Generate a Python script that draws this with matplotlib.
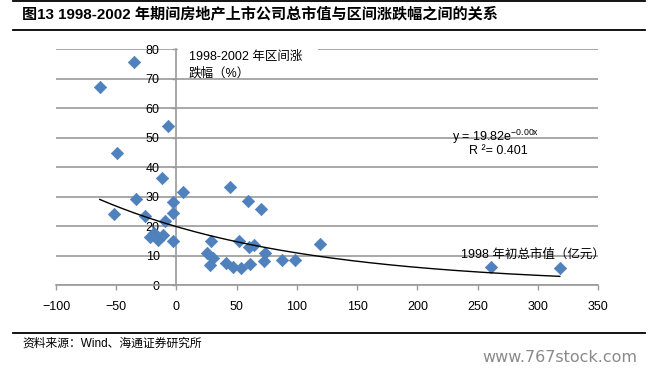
import matplotlib
matplotlib.use("Agg")
import matplotlib.pyplot as plt
from matplotlib.patches import Rectangle
from matplotlib.lines import Line2D
import numpy as np

plt.rcParams['font.family'] = ['Liberation Sans', 'Noto Sans CJK SC', 'DejaVu Sans']
plt.rcParams['mathtext.fontset'] = 'custom'
plt.rcParams['mathtext.rm'] = 'Liberation Sans'
plt.rcParams['mathtext.it'] = 'Liberation Sans'

# Data: 1998 market cap (100m yuan) vs 1998-2002 change (%)
market_cap = [-63.7, -35.2, -7.0, -49.3, -12.0, -33.2, 5.5, -2.8, -2.8, -52.0,
              -26.3, -9.7, -22.2, -15.3, -11.0, -19.0, -2.8, 28.5, 25.0, 30.0,
              27.7, 41.0, 46.7, 53.5, 61.0, 44.3, 59.2, 70.6, 52.0, 60.3,
              64.2, 73.3, 72.5, 88.0, 98.8, 119.6, 260.8, 318.3]
change_pct = [67.3, 75.6, 54.1, 44.9, 36.2, 29.1, 31.7, 28.1, 24.3, 24.2,
              23.5, 21.8, 16.4, 15.3, 17.0, 17.5, 15.0, 14.8, 10.8, 9.0,
              6.8, 7.4, 6.1, 5.9, 7.1, 33.2, 28.5, 25.9, 14.9, 13.0,
              13.6, 11.0, 8.2, 8.5, 8.5, 13.9, 6.2, 5.9]
trend_a = 19.82
trend_b = -0.006
x_ticks = [-100, -50, 0, 50, 100, 150, 200, 250, 300, 350]
y_ticks = [0, 10, 20, 30, 40, 50, 60, 70, 80]

W, H = 663, 374
fig = plt.figure(figsize=(W / 100, H / 100), dpi=100)

ax = fig.add_axes([56 / W, 1 - 285 / H, (598 - 56) / W, (285 - 49.3) / H])
ax.set_xlim(-100, 350)
ax.set_ylim(0, 80)
ax.set_xticks(x_ticks)
ax.set_yticks(y_ticks)
ax.yaxis.grid(True, color='#9a9a9a', linewidth=1.2, zorder=0)
ax.set_axisbelow(True)
for s in ['top', 'right']:
    ax.spines[s].set_visible(False)
ax.spines['left'].set_position(('data', 0))
ax.spines['left'].set_color('#9a9a9a')
ax.spines['left'].set_linewidth(1.2)
ax.spines['bottom'].set_color('#9a9a9a')
ax.spines['bottom'].set_linewidth(1.2)
ax.tick_params(axis='x', direction='out', length=3.5, width=1, color='#9a9a9a',
               pad=8, labelsize=9)
ax.tick_params(axis='y', direction='out', length=3, width=1, color='#9a9a9a',
               pad=9, labelsize=9)

ax.scatter(market_cap, change_pct, marker='D', s=6.3 ** 2, color='#4F81BD',
           edgecolor='#4F81BD', linewidth=0.5, zorder=3)

xt = np.linspace(min(market_cap), max(market_cap), 200)
ax.plot(xt, trend_a * np.exp(trend_b * xt), color='black', linewidth=1.0, zorder=4)

# y-axis title box
ax.add_patch(Rectangle((1.2, 70.7), 116, 10.5, facecolor='white', edgecolor='none',
                       zorder=5, clip_on=False))
ax.text(10.5, 77.6, '1998-2002 年区间涨', fontsize=9, ha='left', va='center', zorder=6)
ax.text(10.5, 72.0, '跌幅（%）', fontsize=9, ha='left', va='center', zorder=6)

# x-axis title
ax.text(236, 10.3, '1998 年初总市值（亿元）', fontsize=9, ha='left', va='center',
        zorder=6, clip_on=False)

# equation
ax.text(265, 50.2, r'y = 19.82e$^{\mathrm{-0.00x}}$', fontsize=9, ha='center',
        va='center', zorder=6)
ax.text(267, 45.5, 'R ²= 0.401', fontsize=9, ha='center', va='center', zorder=6)

# title, lines and source
fig.text(22 / W, 1 - 14 / H, '图13 1998-2002 年期间房地产上市公司总市值与区间涨跌幅之间的关系',
         fontsize=10.9, fontweight='bold', ha='left', va='center',
         family=['Liberation Sans', 'Noto Sans CJK SC'])
for yy in [1, 29.5, 333.3]:
    fig.add_artist(Line2D([13 / W, 645 / W], [1 - yy / H, 1 - yy / H],
                          color='black', linewidth=1.3))
fig.text(22 / W, 1 - 344 / H, '资料来源：Wind、海通证券研究所', fontsize=8.5,
         ha='left', va='center', family=['Liberation Sans', 'Noto Sans CJK SC'])
fig.text(637 / W, 1 - 358 / H, 'www.767stock.com', fontsize=11.5, color='#8a8a8a',
         ha='right', va='center', family=['DejaVu Sans'])

fig.savefig('out.png', dpi=100)
